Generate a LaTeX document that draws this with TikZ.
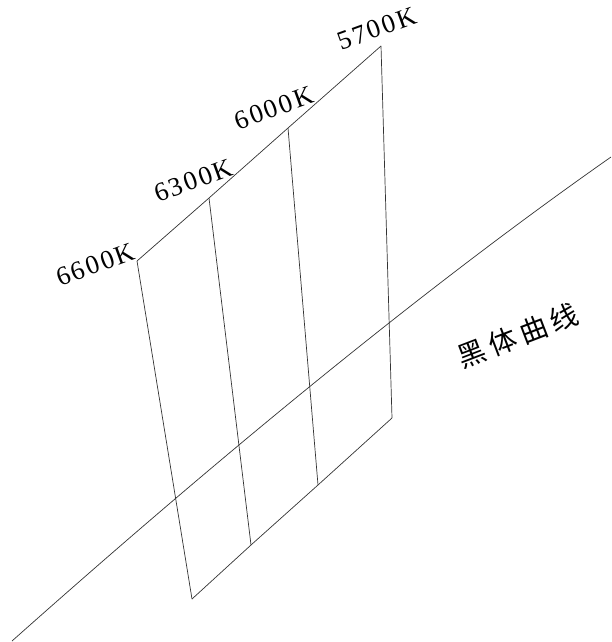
\documentclass[tikz,border=0pt]{standalone}
\usepackage{fontspec}
\setmainfont{Liberation Serif}
\newfontfamily\labfont[LetterSpace=9]{Liberation Serif}
\newfontfamily\cjk[LetterSpace=18]{Noto Sans CJK SC}
\begin{document}
\begin{tikzpicture}[x=1pt,y=-1pt,
  gridline/.style={draw=black!80,line width=0.7pt,line join=round},
  templabel/.style={inner sep=0pt,rotate=20,font=\labfont\fontsize{26.5pt}{30pt}\selectfont},
  curvelabel/.style={inner sep=0pt,rotate=21,font=\cjk\fontsize{28pt}{32pt}\selectfont}]
\useasboundingbox (0,0) rectangle (611,642);
% grid corners
\coordinate (t1) at (137,261);
\coordinate (t2) at (209,198);
\coordinate (t3) at (288,128);
\coordinate (t4) at (381,46);
\coordinate (b1) at (192,599);
\coordinate (b2) at (251,545);
\coordinate (b3) at (318,485);
\coordinate (b4) at (392,418);
% blackbody curve ends
\coordinate (cs) at (12,641);
\coordinate (ce) at (611,157);
% grid
\draw[gridline] (t1) -- (t2) -- (t3) -- (t4);
\draw[gridline] (b1) -- (b2) -- (b3) -- (b4);
\draw[gridline] (t1) -- (b1);
\draw[gridline] (t2) -- (b2);
\draw[gridline] (t3) -- (b3);
\draw[gridline] (t4) -- (b4);
% curve
\draw[gridline] (cs) .. controls (239,439) and (438.7,277.7) .. (ce);
% labels
\node[templabel] (l6600) at (95.5,264.5) {6600K};
\node[templabel] (l6300) at (193.5,180.5) {6300K};
\node[templabel] (l6000) at (274,108) {6000K};
\node[templabel] (l5700) at (377,28.5) {5700K};
\node[curvelabel] (bb) at (518,335.5) {黑体曲线};
\end{tikzpicture}
\end{document}
